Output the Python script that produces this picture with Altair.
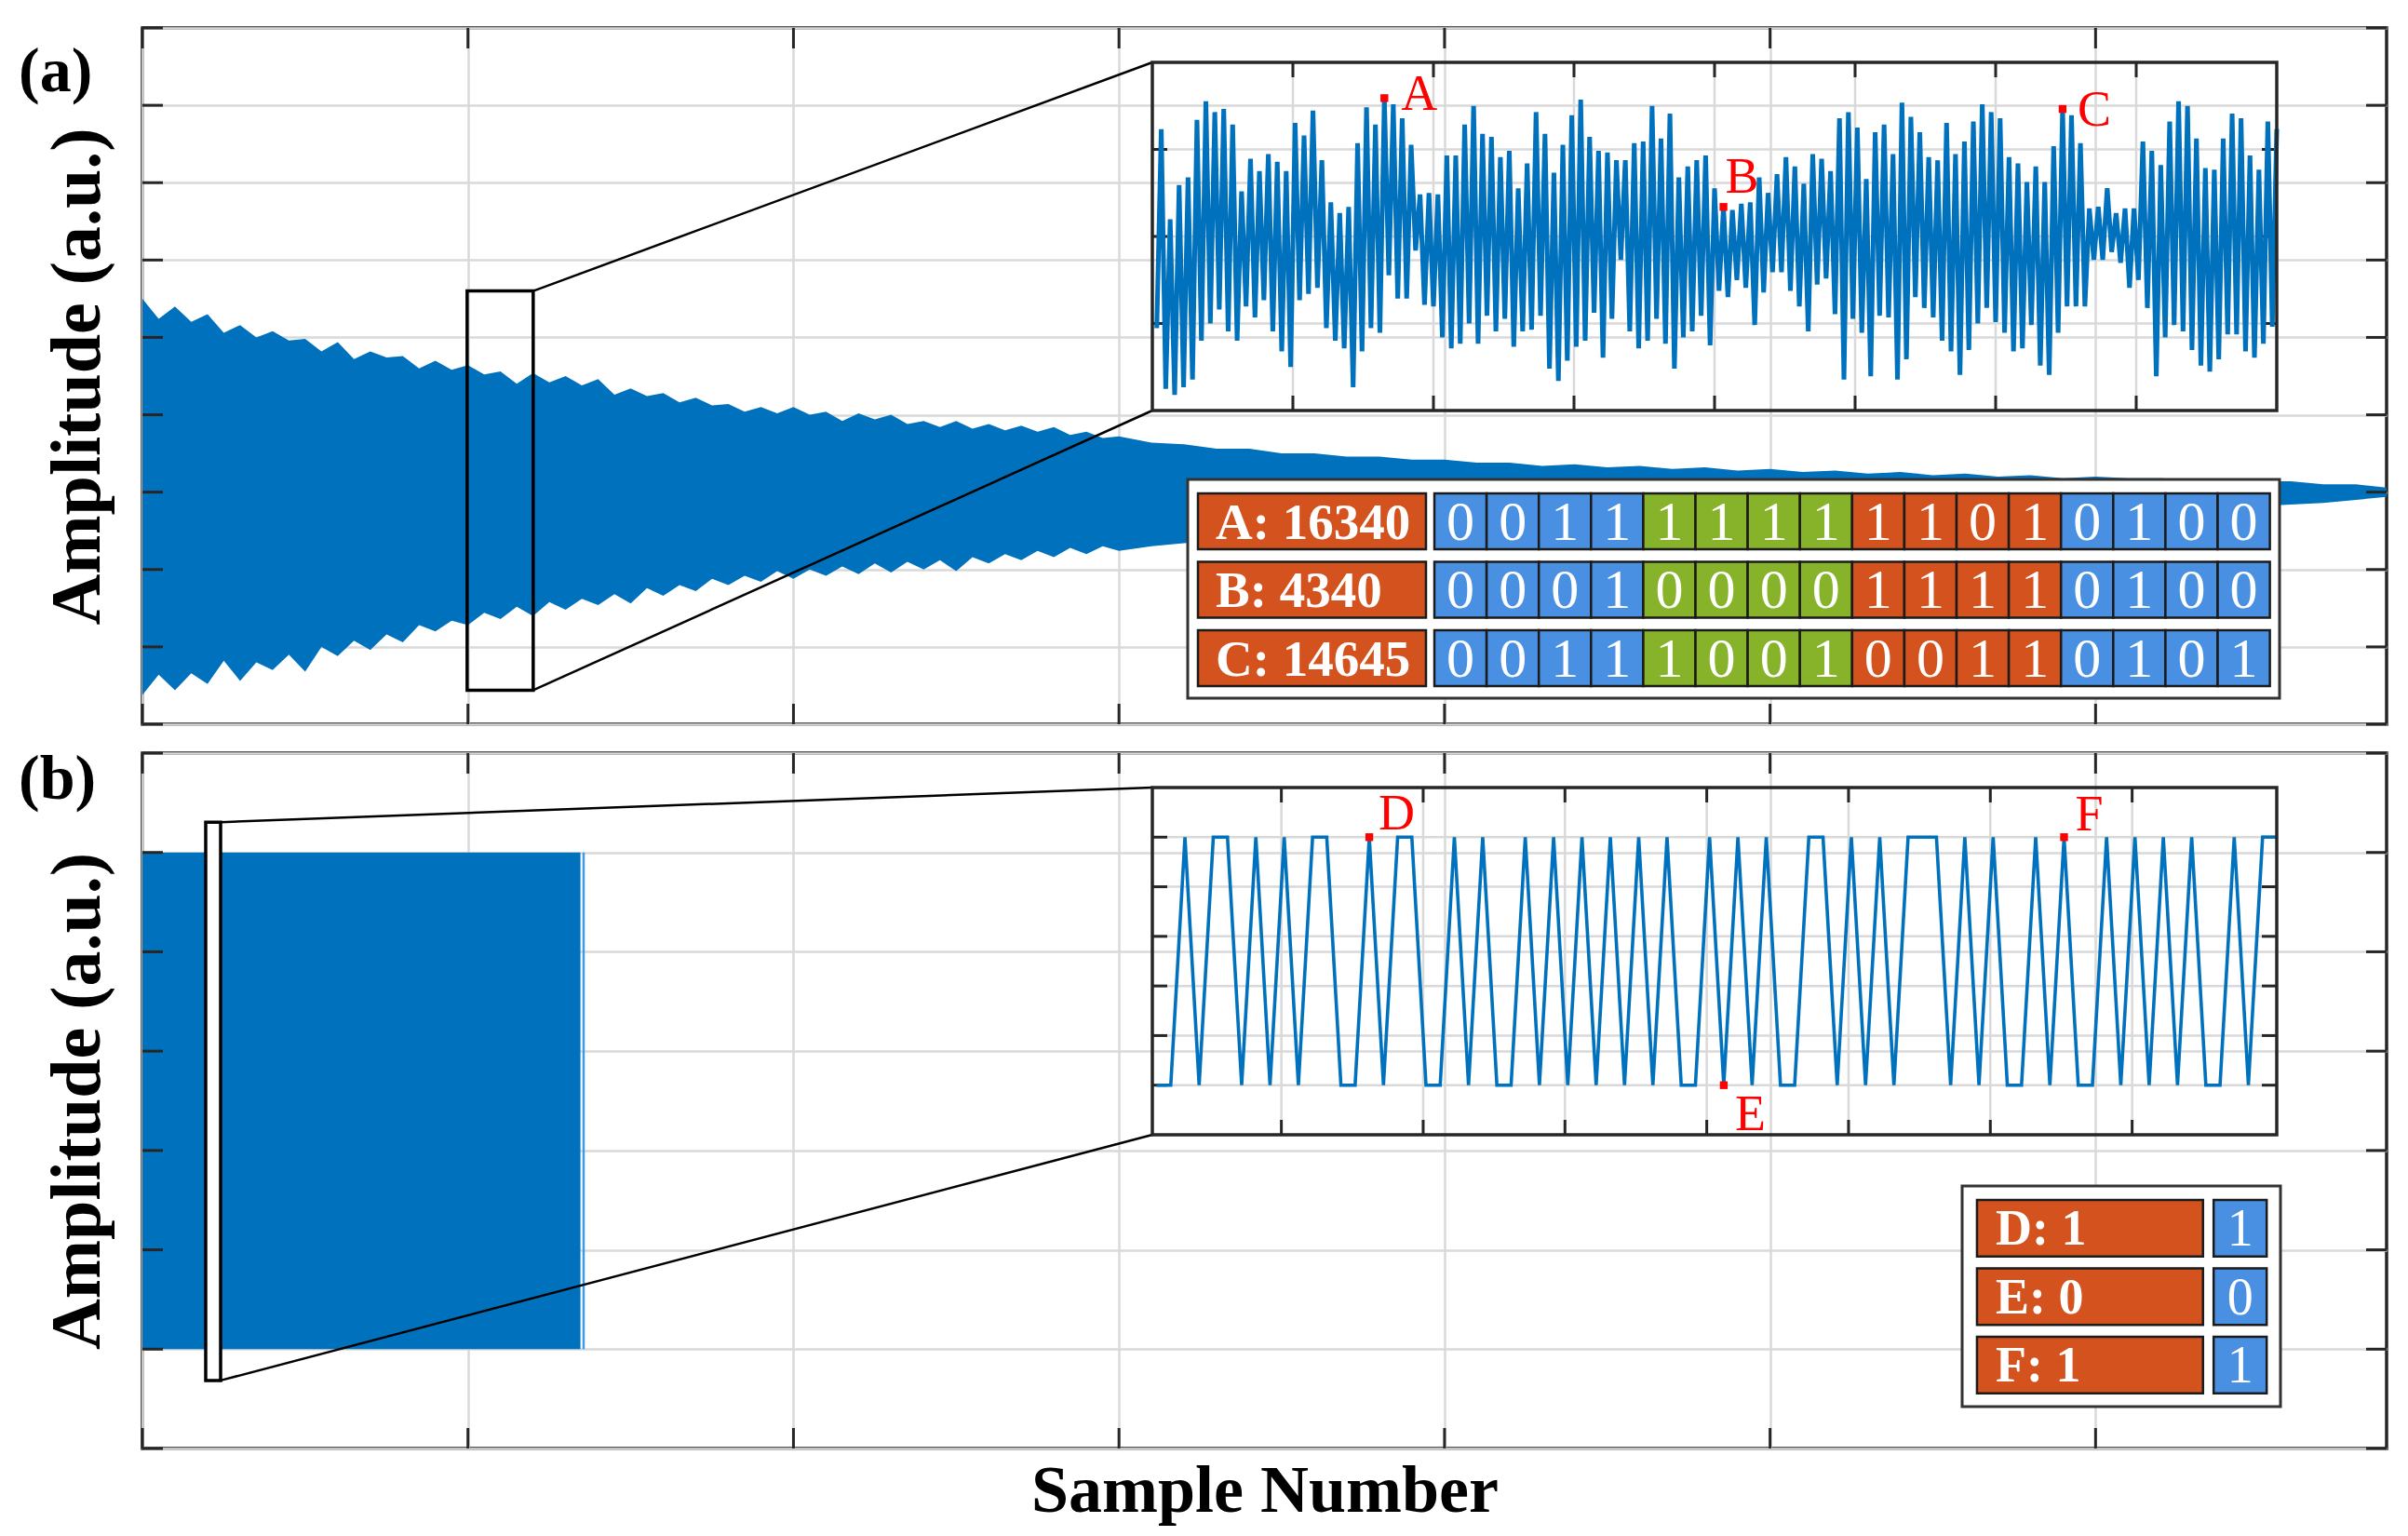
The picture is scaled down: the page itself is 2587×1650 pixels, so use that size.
import altair as alt
import pandas as pd

# ------------------------------------------------------------------ data
# (a) envelope of the received, decaying waveform (sample number, upper, lower)
env_a_x = list(range(0, 30000, 500)) + list(range(30000, 68001, 1000)) + [68940]
env_a_hi = [125, 112, 120, 110, 115, 103, 108, 100, 104, 98,
            99, 91, 97, 86, 91, 87, 88, 80, 85, 79,
            82, 76, 78, 70, 77, 71, 75, 69, 73, 63,
            67, 62, 64, 58, 61, 56, 57, 52, 55, 51,
            55, 50, 52, 46, 51, 47, 50, 44, 46, 42,
            46, 41, 44, 40, 43, 39, 42, 37, 39, 35,
            36, 32, 31, 28, 28, 25, 25, 23, 23, 21,
            21, 19, 19, 17, 18, 16, 17, 15, 16, 14,
            15, 13, 14, 12, 13, 11, 12, 10, 11, 9,
            10, 9, 9, 8, 8, 7, 7, 5, 5, 3]
env_a_lo = [-131, -118, -128, -117, -124, -109, -122, -110, -115, -105,
            -116, -100, -106, -96, -102, -92, -97, -86, -90, -83,
            -86, -78, -82, -74, -80, -71, -76, -69, -73, -66,
            -72, -62, -67, -60, -64, -56, -60, -54, -58, -51,
            -56, -50, -54, -48, -53, -46, -52, -45, -50, -44,
            -51, -42, -46, -40, -44, -38, -42, -36, -40, -35,
            -38, -35, -33, -31, -30, -29, -27, -26, -25, -24,
            -23, -21, -20, -20, -19, -18, -18, -17, -17, -16,
            -16, -15, -15, -14, -14, -13, -13, -12, -12, -12,
            -11, -11, -10, -10, -9, -9, -8, -7, -5, -3]
zoom_a = {"x0": 9975, "x1": 12005, "y0": -128, "y1": 130}

# (a) inset: successive troughs and peaks of the zoomed waveform
inset_a_troughs = [-295, -490, -510, -485, -460, -335, -280, -235, -305, -335,
                   -225, -260, -205, -305, -370, -420, -205, -185, -165, -295,
                   -335, -360, -485, -370, -295, -310, -125, -200, -200, -45,
                   -220, -225, -325, -360, -345, -280, -345, -255, -305, -265,
                   -355, -305, -300, -255, -425, -465, -400, -355, -335, -245,
                   -390, -265, -75, -305, -360, -335, -265, -345, -425, -325,
                   -305, -255, -350, -175,
                   -195, -140, -165, -285, -180, -115, -115, -175, -225, -305,
                   -155, -135, -250, -460, -265, -310, -450, -255, -260, -460,
                   -395, -195, -230, -260, -335, -370, -445, -365, -280, -230,
                   -275, -310, -370, -360, -285, -415, -445, -310, -225, -225,
                   -225, -75, -75, -50, -85, -165, -140, -230, -450, -325,
                   -285, -305, -365, -415, -435, -395, -315, -315, -370, -390,
                   -345, -290]
inset_a_peaks = [345, 55, 165, 190, 375, 435, 400, 410, 360, 145,
                 250, 210, 265, 240, 210, 365, 325, 405, 245, 110,
                 75, 95, 300, 415, 360, 445, 425, 380, 295, 135,
                 140, 135, 260, 260, 360, 420, 330, 320, 255, 275,
                 155, 235, 400, 330, 205, 295, 390, 440, 320, 275,
                 270, 245, 245, 300, 305, 420, 315, 395, 190, 225,
                 245, 260, 155, 95,
                 85, 105, 110, 190, 140, 200, 255, 225, 170, 265,
                 250, 210, 380, 400, 350, 185, 335, 360, 265, 430,
                 385, 335, 255, 245, 365, 265, 305, 370, 425, 400,
                 380, 255, 235, 175, 225, 175, 290, 410, 390, 300,
                 90, 95, 155, 75, 90, 90, 305, 275, 230, 370,
                 435, 420, 315, 220, 215, 315, 395, 380, 260, 215,
                 370, 345]
marks_a_name = ["A", "B", "C"]
marks_a_idx = [51, 127, 203]
marks_a_val = [445, 95, 410]

tab_a_labels = ["A: 16340", "B: 4340", "C: 14645"]
tab_a_bits = ["0011111111010100", "0001000011110100", "0011100100110101"]

# (b) binary waveform
block_b_x = [0, 13456]
block_b_lo = [0, 0]
block_b_hi = [1, 1]
last_b_x = 13553
zoom_b = {"x0": 1944, "x1": 2402, "y0": -0.063, "y1": 1.061}
inset_b_bits = [0, 0, 1, 0, 1, 1, 0, 1, 0, 1,
                0, 1, 1, 0, 0, 1, 0, 1, 1, 0,
                0, 1, 0, 1, 0, 0, 1, 0, 1, 0,
                1, 0, 1, 0, 1, 0, 1, 0, 0, 1,
                0, 1, 0, 1, 0, 0, 1, 1, 0, 1,
                0, 1, 0, 1, 1, 1, 0, 1, 0, 1,
                0, 0, 1, 0, 1, 0, 0, 1, 0, 1,
                0, 1, 0, 1, 0, 0, 1, 0, 1, 1]
marks_b_name = ["D", "E", "F"]
marks_b_idx = [15, 40, 64]
marks_b_val = [1, 0, 1]

tab_b_labels = ["D: 1", "E: 0", "F: 1"]
tab_b_bits = ["1", "0", "1"]

# ------------------------------------------------------------------ style / layout
BLUE = "#0072BD"
ORANGE = "#D4521E"
CELL_BLUE = "#4A90E2"
GREEN = "#86B32A"
GRID = "#d9d9d9"
FRAME = "#262626"
RED = "#FF0000"
FONT = "Liberation Serif"

W, HA, HB = 2411, 748, 747
X_DOM = [0, 68940]
YA_DOM = [-150, 300]
YB_DOM = [-0.2, 1.2]
X_TICKS = list(range(0, 60001, 10000))
YA_TICKS = list(range(-150, 301, 50))
YB_TICKS = [round(-0.2 + 0.2 * k, 1) for k in range(8)]
INSET_A_PX = (1085, 37, 2293, 411)
INSET_B_PX = (1085, 37, 2293, 410)
TABLE_A_PX = (1123, 485, 2296, 720)
TABLE_B_PX = (1955, 465, 2297, 702)


def px_to_x(p):
    return X_DOM[0] + p / W * (X_DOM[1] - X_DOM[0])


def px_to_y(p, dom, h):
    return dom[1] - p / h * (dom[1] - dom[0])


def main_group(h, ydom, yticks, xtitle, label, label_y, data_layers, zoom, inset_px, zoom_fill_op):
    sx = alt.Scale(domain=X_DOM, nice=False, zero=False)
    sy = alt.Scale(domain=ydom, nice=False, zero=False)
    ax_x = alt.Axis(values=X_TICKS, grid=True, labels=False, ticks=False, domain=False,
                    title=xtitle if xtitle else None, titleFont=FONT, titleFontSize=72,
                    titleFontWeight="bold", titleColor="black", titlePadding=10)
    ax_y = alt.Axis(values=yticks, grid=True, labels=False, ticks=False, domain=False,
                    title="Amplitude (a.u.)", titleFont=FONT, titleFontSize=76,
                    titleFontWeight="bold", titleColor="black", titleX=-70, titleY=h / 2,
                    titleBaseline="middle", titleAngle=270)
    X = lambda f: alt.X(f, type="quantitative", scale=sx, axis=ax_x)
    Y = lambda f: alt.Y(f, type="quantitative", scale=sy, axis=ax_y)

    layers = [fn(X, Y) for fn in data_layers]

    zdf = pd.DataFrame([zoom])
    layers.append(alt.Chart(zdf).mark_rect(fill="white", fillOpacity=zoom_fill_op, stroke="black",
                                           strokeWidth=3.5)
                  .encode(x=X("x0"), x2="x1", y=Y("y0"), y2="y1"))
    ix = px_to_x(inset_px[0])
    iy_top = px_to_y(inset_px[1], ydom, h)
    iy_bot = px_to_y(inset_px[3], ydom, h)
    cdf = pd.DataFrame({"x": [zoom["x1"], zoom["x1"]], "y": [zoom["y1"], zoom["y0"]],
                        "x2": [ix, ix], "y2": [iy_top, iy_bot]})
    layers.append(alt.Chart(cdf).mark_rule(color="black", strokeWidth=2.5)
                  .encode(x=X("x"), y=Y("y"), x2="x2", y2="y2"))

    L = 22
    tx = pd.DataFrame({"t": X_TICKS})
    ty = pd.DataFrame({"t": yticks})
    tk = dict(color=FRAME, strokeWidth=3)
    layers += [
        alt.Chart(tx).mark_rule(**tk).encode(x=X("t"), y=alt.value(h), y2=alt.value(h - L)),
        alt.Chart(tx).mark_rule(**tk).encode(x=X("t"), y=alt.value(0), y2=alt.value(L)),
        alt.Chart(ty).mark_rule(**tk).encode(y=Y("t"), x=alt.value(0), x2=alt.value(L)),
        alt.Chart(ty).mark_rule(**tk).encode(y=Y("t"), x=alt.value(W), x2=alt.value(W - L)),
    ]
    ldf = pd.DataFrame({"t": [label]})
    layers.append(alt.Chart(ldf).mark_text(font=FONT, fontSize=68, fontWeight="bold", align="left",
                                           baseline="middle", color="black")
                  .encode(text="t:N", x=alt.value(-133), y=alt.value(label_y)))
    return alt.layer(*layers)


def inset_group(px, xdom, ydom, gx, gy, line_df, names, idxs, vals, offsets, lw):
    x0, y0, x1, y1 = px
    sx = alt.Scale(domain=xdom, range=[x0, x1], nice=False, zero=False)
    sy = alt.Scale(domain=ydom, range=[y1, y0], nice=False, zero=False)
    X = lambda f: alt.X(f, type="quantitative", scale=sx, axis=None)
    Y = lambda f: alt.Y(f, type="quantitative", scale=sy, axis=None)
    tlx = 16 / (x1 - x0) * (xdom[1] - xdom[0])
    tly = 16 / (y1 - y0) * (ydom[1] - ydom[0])
    gs = dict(color=GRID, strokeWidth=2.5)
    tk = dict(color=FRAME, strokeWidth=3)
    layers = [
        alt.Chart(pd.DataFrame({"g": gx, "a": ydom[0], "b": ydom[1]})).mark_rule(**gs)
        .encode(x=X("g"), y=Y("a"), y2="b"),
        alt.Chart(pd.DataFrame({"g": gy, "a": xdom[0], "b": xdom[1]})).mark_rule(**gs)
        .encode(y=Y("g"), x=X("a"), x2="b"),
        alt.Chart(pd.DataFrame({"g": gx, "a": ydom[0], "b": ydom[0] + tly})).mark_rule(**tk)
        .encode(x=X("g"), y=Y("a"), y2="b"),
        alt.Chart(pd.DataFrame({"g": gx, "a": ydom[1] - tly, "b": ydom[1]})).mark_rule(**tk)
        .encode(x=X("g"), y=Y("a"), y2="b"),
        alt.Chart(pd.DataFrame({"g": gy, "a": xdom[0], "b": xdom[0] + tlx})).mark_rule(**tk)
        .encode(y=Y("g"), x=X("a"), x2="b"),
        alt.Chart(pd.DataFrame({"g": gy, "a": xdom[1] - tlx, "b": xdom[1]})).mark_rule(**tk)
        .encode(y=Y("g"), x=X("a"), x2="b"),
        alt.Chart(line_df).mark_line(color=BLUE, strokeWidth=lw, strokeJoin="miter")
        .encode(x=X("i"), y=Y("v")),
        alt.Chart(pd.DataFrame({"x0": [xdom[0]], "x1": [xdom[1]], "y0": [ydom[0]], "y1": [ydom[1]]}))
        .mark_rect(fill="white", fillOpacity=0, stroke=FRAME, strokeWidth=3.5)
        .encode(x=X("x0"), x2="x1", y=Y("y0"), y2="y1"),
    ]
    mdf = pd.DataFrame({"n": names, "i": idxs, "v": vals})
    layers.append(alt.Chart(mdf).mark_point(shape="square", filled=True, color=RED, size=70, opacity=1)
                  .encode(x=X("i"), y=Y("v")))
    for k, (dx, dy) in enumerate(offsets):
        layers.append(alt.Chart(mdf.iloc[[k]]).mark_text(font=FONT, fontSize=54, color=RED, align="left",
                                                         baseline="alphabetic", dx=dx, dy=dy)
                      .encode(x=X("i"), y=Y("v"), text="n:N"))
    return alt.layer(*layers)


def table_group(px, unit_w, unit_h, label_box, bit_x0, row_y, labels, bits, colors, label_pad,
                lab_size, bit_size):
    x0, y0, x1, y1 = px
    dw = (x1 - x0) / unit_w
    dh = (y1 - y0) / unit_h
    sx = alt.Scale(domain=[0, dw], range=[x0, x1], nice=False, zero=False)
    sy = alt.Scale(domain=[0, dh], range=[y0, y1], nice=False, zero=False)
    X = lambda f: alt.X(f, type="quantitative", scale=sx, axis=None)
    Y = lambda f: alt.Y(f, type="quantitative", scale=sy, axis=None)
    cells, ltxt, btxt = [], [], []
    for r, (lab, bs) in enumerate(zip(labels, bits)):
        ya, yb = row_y[0] + r, row_y[1] + r
        cells.append(dict(x0=label_box[0], x1=label_box[1], y0=ya, y1=yb, fill=ORANGE))
        ltxt.append(dict(x=label_box[0] + label_pad, y=(ya + yb) / 2, t=lab))
        for j, b in enumerate(bs):
            cells.append(dict(x0=bit_x0 + j, x1=bit_x0 + j + 1, y0=ya, y1=yb, fill=colors[j // 4]))
            btxt.append(dict(x=bit_x0 + j + 0.5, y=(ya + yb) / 2, t=b))
    frame = pd.DataFrame({"x0": [0], "x1": [dw], "y0": [0], "y1": [dh]})
    return alt.layer(
        alt.Chart(frame).mark_rect(fill="white", stroke="#333333", strokeWidth=3)
        .encode(x=X("x0"), x2="x1", y=Y("y0"), y2="y1"),
        alt.Chart(pd.DataFrame(cells)).mark_rect(stroke="#1b1b1b", strokeWidth=2.5)
        .encode(x=X("x0"), x2="x1", y=Y("y0"), y2="y1", fill=alt.Fill("fill:N", scale=None)),
        alt.Chart(pd.DataFrame(ltxt)).mark_text(font=FONT, fontSize=lab_size, fontWeight="bold",
                                                color="white", align="left", baseline="middle", dy=2)
        .encode(x=X("x"), y=Y("y"), text="t:N"),
        alt.Chart(pd.DataFrame(btxt)).mark_text(font=FONT, fontSize=bit_size, color="white",
                                                align="center", baseline="middle", dy=2)
        .encode(x=X("x"), y=Y("y"), text="t:N"),
    )


# ------------------------------------------------------------------ panel (a)
env_a = pd.DataFrame({"x": env_a_x, "hi": env_a_hi, "lo": env_a_lo})
layer_env_a = lambda X, Y: alt.Chart(env_a).mark_area(color=BLUE, opacity=1).encode(
    x=X("x"), y=Y("hi"), y2="lo")
main_a = main_group(HA, YA_DOM, YA_TICKS, None, "(a)", 48, [layer_env_a], zoom_a, INSET_A_PX, 0)

seq_a = []
for t, p in zip(inset_a_troughs, inset_a_peaks):
    seq_a += [t, p]
line_a = pd.DataFrame({"i": list(range(len(seq_a))), "v": seq_a})
xa_dom = [-1, 251]
ya_dom = [-560, 560]
gx_a = [xa_dom[0] + (xa_dom[1] - xa_dom[0]) * k / 8 for k in range(1, 8)]
inset_a = inset_group(INSET_A_PX, xa_dom, ya_dom, gx_a, [-280, 0, 280], line_a,
                      marks_a_name, marks_a_idx, marks_a_val,
                      [(18, 13), (2, -15), (16, 18)], 5.0)

table_a = table_group(TABLE_A_PX, 56.1, 73.5, (0.196, 4.563), 4.724, (0.204, 1.02),
                      tab_a_labels, tab_a_bits, [CELL_BLUE, GREEN, ORANGE, CELL_BLUE], 0.34, 55, 60)

panel_a = alt.layer(main_a, inset_a, table_a).resolve_scale(
    x="independent", y="independent").properties(width=W, height=HA)

# ------------------------------------------------------------------ panel (b)
blk = pd.DataFrame({"x": block_b_x, "hi": block_b_hi, "lo": block_b_lo})
lastdf = pd.DataFrame({"x": [last_b_x], "lo": [0], "hi": [1]})
layer_blk = lambda X, Y: alt.Chart(blk).mark_area(color=BLUE, opacity=1).encode(
    x=X("x"), y=Y("hi"), y2="lo")
layer_last = lambda X, Y: alt.Chart(lastdf).mark_rule(color="#3d9be6", strokeWidth=2.5).encode(
    x=X("x"), y=Y("lo"), y2="hi")
main_b = main_group(HB, YB_DOM, YB_TICKS, "Sample Number", "(b)", 29, [layer_blk, layer_last],
                    zoom_b, INSET_B_PX, 1)

line_b = pd.DataFrame({"i": list(range(len(inset_b_bits))), "v": inset_b_bits})
xb_dom = [-0.3, 79]
yb_dom = [-0.2, 1.2]
gx_b = [8.8 + 10 * k for k in range(7)]
inset_b = inset_group(INSET_B_PX, xb_dom, yb_dom, gx_b, [0, 0.2, 0.4, 0.6, 0.8, 1.0], line_b,
                      marks_b_name, marks_b_idx, marks_b_val,
                      [(10, -8), (12, 48), (12, -7)], 3.6)

table_b = table_group(TABLE_B_PX, 57.0, 73.5, (0.28, 4.54), 4.74, (0.204, 1.03),
                      tab_b_labels, tab_b_bits, [CELL_BLUE], 0.35, 54, 56)

panel_b = alt.layer(main_b, inset_b, table_b).resolve_scale(
    x="independent", y="independent").properties(width=W, height=HB)

chart = alt.vconcat(panel_a, panel_b, spacing=20).properties(
    padding={"left": 10, "top": 18, "right": 5, "bottom": 5},
    background="white",
).configure_view(stroke=FRAME, strokeWidth=3.5).configure_axis(
    gridColor=GRID, gridWidth=2.5, gridOpacity=1)

chart.save("out.html", embed_options={"renderer": "svg", "actions": False})
